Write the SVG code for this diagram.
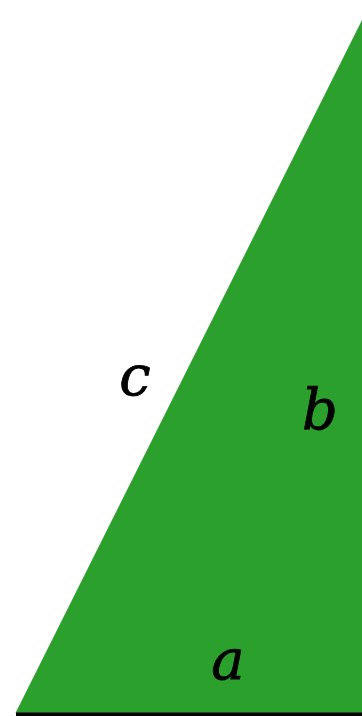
<svg xmlns="http://www.w3.org/2000/svg" width="362" height="716" viewBox="0 0 362 716">
<style>
.lbl{font-family:"DejaVu Serif",serif;font-style:italic;font-size:56px;fill:#000;stroke:#000;stroke-width:0.8;text-anchor:middle}
</style>
<rect width="362" height="716" fill="#fff"/>
<g id="triangle">
<polygon points="15.5,713 362,20 362,713" fill="#2ca02c"/>
<rect x="16" y="712.5" width="346" height="3.5" fill="#000"/>
</g>
<g id="labels">
<text class="lbl" x="135" y="395">c</text>
<text class="lbl" x="320" y="429">b</text>
<text class="lbl" x="228" y="679">a</text>
</g>
</svg>
